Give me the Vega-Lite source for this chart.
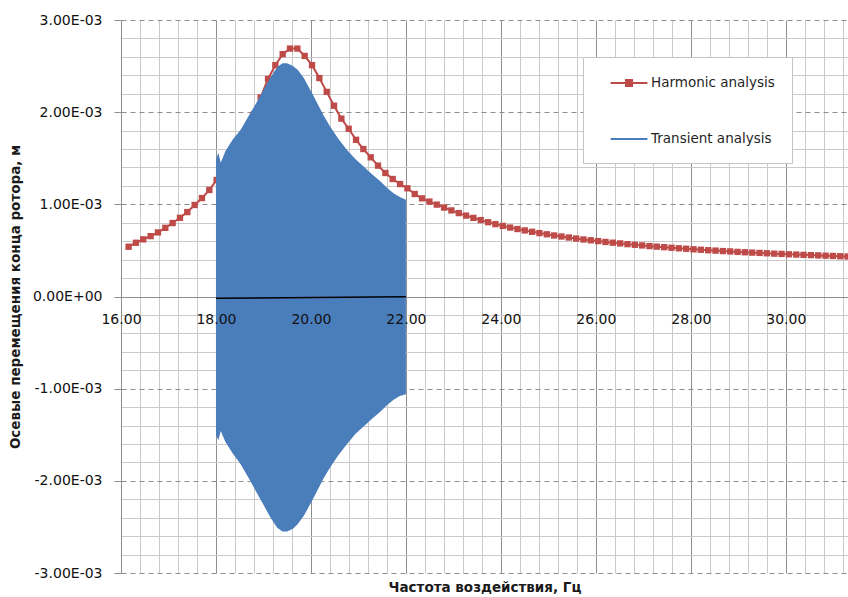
{
  "$schema": "https://vega.github.io/schema/vega-lite/v6.json",
  "width": 727,
  "height": 553,
  "autosize": {"type": "none"},
  "padding": {"left": 121, "top": 20, "right": 0, "bottom": 24},
  "background": "white",
  "config": {"view": {"stroke": null}, "font": "DejaVu Sans"},
  "datasets": {
    "harmonic": [
      {"f": 16.160, "a": 5.40e-4}, {"f": 16.315, "a": 5.83e-4}, {"f": 16.469, "a": 6.20e-4}, {"f": 16.624, "a": 6.55e-4},
      {"f": 16.778, "a": 6.95e-4}, {"f": 16.933, "a": 7.45e-4}, {"f": 17.087, "a": 7.97e-4}, {"f": 17.242, "a": 8.54e-4},
      {"f": 17.396, "a": 9.16e-4}, {"f": 17.551, "a": 9.93e-4}, {"f": 17.705, "a": 1.068e-3}, {"f": 17.860, "a": 1.156e-3},
      {"f": 18.014, "a": 1.264e-3}, {"f": 18.169, "a": 1.38e-3}, {"f": 18.323, "a": 1.51e-3}, {"f": 18.478, "a": 1.64e-3},
      {"f": 18.632, "a": 1.80e-3}, {"f": 18.787, "a": 1.97e-3}, {"f": 18.941, "a": 2.16e-3}, {"f": 19.096, "a": 2.36e-3},
      {"f": 19.250, "a": 2.51e-3}, {"f": 19.405, "a": 2.63e-3}, {"f": 19.559, "a": 2.69e-3}, {"f": 19.714, "a": 2.69e-3},
      {"f": 19.868, "a": 2.61e-3}, {"f": 20.023, "a": 2.51e-3}, {"f": 20.177, "a": 2.37e-3}, {"f": 20.332, "a": 2.22e-3},
      {"f": 20.486, "a": 2.07e-3}, {"f": 20.641, "a": 1.93e-3}, {"f": 20.795, "a": 1.82e-3}, {"f": 20.950, "a": 1.70e-3},
      {"f": 21.104, "a": 1.60e-3}, {"f": 21.259, "a": 1.51e-3}, {"f": 21.413, "a": 1.42e-3}, {"f": 21.568, "a": 1.34e-3},
      {"f": 21.722, "a": 1.275e-3}, {"f": 21.877, "a": 1.22e-3}, {"f": 22.031, "a": 1.174e-3}, {"f": 22.186, "a": 1.112e-3},
      {"f": 22.340, "a": 1.065e-3}, {"f": 22.495, "a": 1.030e-3}, {"f": 22.649, "a": 9.97e-4}, {"f": 22.804, "a": 9.65e-4},
      {"f": 22.958, "a": 9.34e-4}, {"f": 23.113, "a": 9.05e-4}, {"f": 23.267, "a": 8.78e-4}, {"f": 23.422, "a": 8.53e-4},
      {"f": 23.576, "a": 8.29e-4}, {"f": 23.731, "a": 8.06e-4}, {"f": 23.885, "a": 7.85e-4}, {"f": 24.040, "a": 7.66e-4},
      {"f": 24.194, "a": 7.48e-4}, {"f": 24.349, "a": 7.32e-4}, {"f": 24.503, "a": 7.17e-4}, {"f": 24.658, "a": 7.02e-4},
      {"f": 24.812, "a": 6.88e-4}, {"f": 24.967, "a": 6.75e-4}, {"f": 25.121, "a": 6.62e-4}, {"f": 25.276, "a": 6.51e-4},
      {"f": 25.430, "a": 6.40e-4}, {"f": 25.585, "a": 6.29e-4}, {"f": 25.739, "a": 6.19e-4}, {"f": 25.894, "a": 6.10e-4},
      {"f": 26.048, "a": 6.01e-4}, {"f": 26.203, "a": 5.92e-4}, {"f": 26.357, "a": 5.84e-4}, {"f": 26.512, "a": 5.76e-4},
      {"f": 26.666, "a": 5.68e-4}, {"f": 26.821, "a": 5.61e-4}, {"f": 26.975, "a": 5.54e-4}, {"f": 27.130, "a": 5.47e-4},
      {"f": 27.284, "a": 5.41e-4}, {"f": 27.439, "a": 5.35e-4}, {"f": 27.593, "a": 5.29e-4}, {"f": 27.748, "a": 5.23e-4},
      {"f": 27.902, "a": 5.18e-4}, {"f": 28.057, "a": 5.12e-4}, {"f": 28.211, "a": 5.07e-4}, {"f": 28.366, "a": 5.02e-4},
      {"f": 28.520, "a": 4.98e-4}, {"f": 28.675, "a": 4.93e-4}, {"f": 28.829, "a": 4.89e-4}, {"f": 28.984, "a": 4.84e-4},
      {"f": 29.138, "a": 4.80e-4}, {"f": 29.293, "a": 4.76e-4}, {"f": 29.447, "a": 4.73e-4}, {"f": 29.602, "a": 4.69e-4},
      {"f": 29.756, "a": 4.65e-4}, {"f": 29.911, "a": 4.62e-4}, {"f": 30.065, "a": 4.58e-4}, {"f": 30.220, "a": 4.55e-4},
      {"f": 30.374, "a": 4.52e-4}, {"f": 30.529, "a": 4.49e-4}, {"f": 30.683, "a": 4.46e-4}, {"f": 30.838, "a": 4.43e-4},
      {"f": 30.992, "a": 4.40e-4}, {"f": 31.147, "a": 4.37e-4}, {"f": 31.301, "a": 4.34e-4}
    ],
    "transient": [
      {"f": 18.00, "upper": 1.48e-3, "lower": -1.50e-3}, {"f": 18.05, "upper": 1.56e-3, "lower": -1.56e-3},
      {"f": 18.10, "upper": 1.45e-3, "lower": -1.46e-3}, {"f": 18.20, "upper": 1.58e-3, "lower": -1.58e-3},
      {"f": 18.35, "upper": 1.70e-3, "lower": -1.70e-3}, {"f": 18.52, "upper": 1.81e-3, "lower": -1.82e-3},
      {"f": 18.70, "upper": 1.97e-3, "lower": -1.98e-3}, {"f": 18.85, "upper": 2.10e-3, "lower": -2.12e-3},
      {"f": 19.00, "upper": 2.24e-3, "lower": -2.26e-3}, {"f": 19.15, "upper": 2.38e-3, "lower": -2.40e-3},
      {"f": 19.29, "upper": 2.49e-3, "lower": -2.51e-3}, {"f": 19.40, "upper": 2.53e-3, "lower": -2.55e-3},
      {"f": 19.50, "upper": 2.53e-3, "lower": -2.55e-3}, {"f": 19.62, "upper": 2.50e-3, "lower": -2.52e-3},
      {"f": 19.72, "upper": 2.46e-3, "lower": -2.47e-3}, {"f": 19.85, "upper": 2.37e-3, "lower": -2.38e-3},
      {"f": 20.02, "upper": 2.21e-3, "lower": -2.22e-3}, {"f": 20.13, "upper": 2.10e-3, "lower": -2.11e-3},
      {"f": 20.27, "upper": 1.96e-3, "lower": -1.97e-3}, {"f": 20.41, "upper": 1.84e-3, "lower": -1.85e-3},
      {"f": 20.58, "upper": 1.71e-3, "lower": -1.72e-3}, {"f": 20.76, "upper": 1.59e-3, "lower": -1.60e-3},
      {"f": 20.94, "upper": 1.49e-3, "lower": -1.49e-3}, {"f": 21.11, "upper": 1.41e-3, "lower": -1.41e-3},
      {"f": 21.28, "upper": 1.33e-3, "lower": -1.33e-3}, {"f": 21.46, "upper": 1.25e-3, "lower": -1.25e-3},
      {"f": 21.60, "upper": 1.18e-3, "lower": -1.18e-3}, {"f": 21.74, "upper": 1.12e-3, "lower": -1.12e-3},
      {"f": 21.87, "upper": 1.08e-3, "lower": -1.08e-3}, {"f": 22.00, "upper": 1.05e-3, "lower": -1.06e-3}
    ],
    "mean": [
      {"f": 18.0, "a": -2.0e-5},
      {"f": 22.0, "a": -3.0e-6}
    ]
  },
  "resolve": {"axis": {"x": "independent", "y": "independent"}},
  "layer": [
    {
      "data": {"name": "harmonic"},
      "mark": {"type": "line", "strokeWidth": 2, "point": {"shape": "square", "size": 40, "filled": true}},
      "encoding": {
        "x": {
          "field": "f", "type": "quantitative",
          "scale": {"domain": [16, 31.31], "nice": false, "zero": false},
          "axis": {
            "orient": "bottom",
            "values": [16.4, 16.8, 17.2, 17.6, 18.4, 18.8, 19.2, 19.6, 20.4, 20.8, 21.2, 21.6, 22.4, 22.8, 23.2, 23.6, 24.4, 24.8, 25.2, 25.6, 26.4, 26.8, 27.2, 27.6, 28.4, 28.8, 29.2, 29.6, 30.4, 30.8, 31.2],
            "grid": true, "gridColor": "#cacaca", "gridWidth": 1,
            "labels": false, "ticks": false, "domain": false,
            "title": "Частота воздействия, Гц",
            "titleFont": "DejaVu Sans", "titleFontWeight": "bold", "titleFontSize": 13.5, "titleColor": "#1a1a1a", "titlePadding": 7
          }
        },
        "y": {
          "field": "a", "type": "quantitative",
          "scale": {"domain": [-0.003, 0.003], "nice": false, "zero": false},
          "axis": {
            "orient": "left",
            "values": [-0.0028, -0.0026, -0.0024, -0.0022, -0.0018, -0.0016, -0.0014, -0.0012, -0.0008, -0.0006, -0.0004, -0.0002, 0.0002, 0.0004, 0.0006, 0.0008, 0.0012, 0.0014, 0.0016, 0.0018, 0.0022, 0.0024, 0.0026, 0.0028],
            "grid": true, "gridColor": "#cacaca", "gridWidth": 1,
            "labels": false, "ticks": false, "domain": false, "title": null
          }
        },
        "color": {
          "datum": "Harmonic analysis", "type": "nominal",
          "scale": {"domain": ["Harmonic analysis", "Transient analysis"], "range": ["#BE4B48", "#4A7EBB"]},
          "legend": {
            "orient": "none", "legendX": 462, "legendY": 37, "title": null, "direction": "vertical",
            "fillColor": "white", "strokeColor": "#c4c4c4", "padding": 17,
            "symbolSize": 256, "symbolOffset": 20, "labelOffset": 13, "rowPadding": 40,
            "labelFont": "DejaVu Sans", "labelFontSize": 13.5, "labelColor": "#1f1f1f", "labelLimit": 300,
            "symbolStrokeWidth": 2,
            "encode": {
              "labels": {
                "update": {
                  "text": {"signal": "datum.label + '\u00a0\u00a0\u00a0\u00a0\u00a0\u00a0\u00a0'"}
                }
              },
              "symbols": {
                "update": {
                  "shape": {"signal": "datum.value === 'Harmonic analysis' ? 'M-2.3,0H2.3M-0.375,-0.375H0.375V0.375H-0.375Z' : 'M-2.3,0H2.3'"},
                  "fill": {"signal": "datum.value === 'Harmonic analysis' ? '#BE4B48' : 'transparent'"},
                  "stroke": {"signal": "datum.value === 'Harmonic analysis' ? '#BE4B48' : '#4A7EBB'"},
                  "strokeWidth": {"value": 2},
                  "opacity": {"value": 1}
                }
              }
            }
          }
        }
      }
    },
    {
      "data": {"name": "transient"},
      "mark": {"type": "area", "opacity": 1},
      "encoding": {
        "x": {
          "field": "f", "type": "quantitative",
          "axis": {
            "orient": "bottom",
            "values": [16, 18, 20, 22, 24, 26, 28, 30],
            "grid": true, "gridColor": "#8e8e8e", "gridWidth": 1,
            "labels": false, "ticks": false, "domain": false, "title": null
          }
        },
        "y": {
          "field": "upper", "type": "quantitative",
          "axis": {
            "orient": "left",
            "values": [-0.003, -0.002, -0.001, 0, 0.001, 0.002, 0.003],
            "grid": true, "gridColor": "#8e8e8e", "gridWidth": 1,
            "gridDash": {"condition": {"test": "datum.value === 0", "value": []}, "value": [5, 4]},
            "domain": true, "domainColor": "#8e8e8e",
            "ticks": true, "tickSize": 7, "tickColor": "#8e8e8e",
            "labelExpr": "datum.value === 0 ? '0.00E+00' : (datum.value < 0 ? '-' : '') + format(abs(datum.value) * 1000, '.2f') + 'E-03'",
            "labelFont": "DejaVu Sans", "labelFontSize": 14, "labelColor": "#111111", "labelPadding": 12,
            "title": "Осевые перемещения конца ротора, м",
            "titleFont": "DejaVu Sans", "titleFontWeight": "bold", "titleFontSize": 13.5, "titleColor": "#1a1a1a", "titlePadding": 10
          }
        },
        "y2": {"field": "lower"},
        "color": {"datum": "Transient analysis", "type": "nominal"}
      }
    },
    {
      "data": {"name": "mean"},
      "mark": {"type": "line", "color": "black", "strokeWidth": 1.5},
      "encoding": {
        "x": {
          "field": "f", "type": "quantitative",
          "axis": {
            "orient": "bottom", "offset": -276.5, "zindex": 1,
            "values": [16, 18, 20, 22, 24, 26, 28, 30],
            "format": ".2f", "grid": false, "ticks": false, "tickSize": 0,
            "domain": false,
            "labelFlush": false, "labelPadding": 16,
            "labelFont": "DejaVu Sans", "labelFontSize": 14, "labelColor": "#111111",
            "title": null
          }
        },
        "y": {"field": "a", "type": "quantitative", "axis": null}
      }
    }
  ]
}
